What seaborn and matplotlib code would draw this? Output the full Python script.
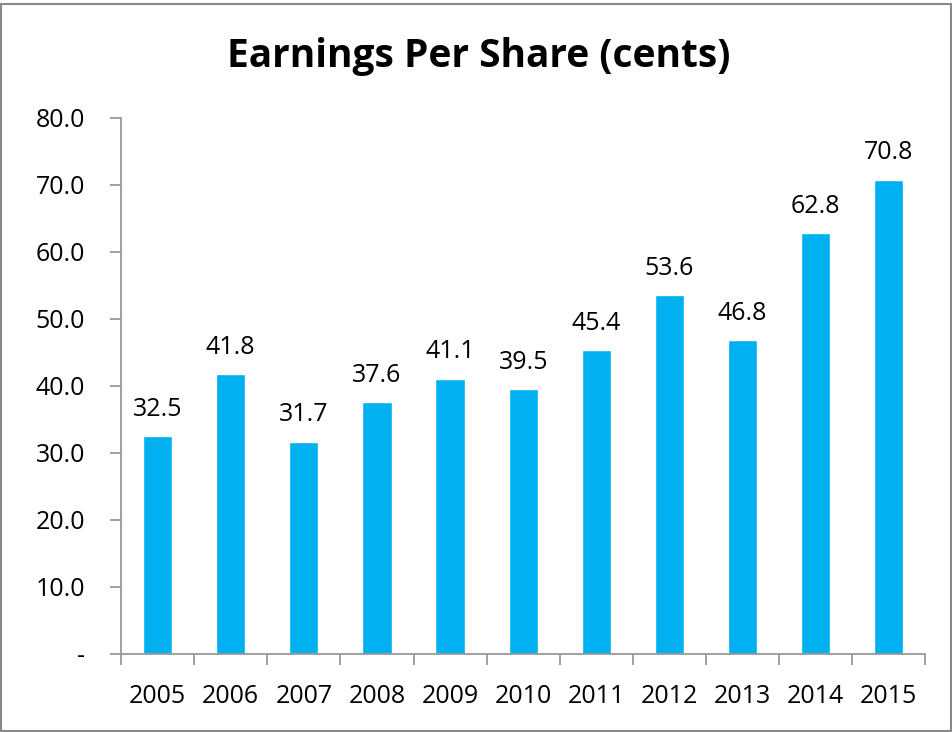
import numpy as np
import pandas as pd
import matplotlib.pyplot as plt
import seaborn as sns
from matplotlib.patches import Rectangle

years = ["2005", "2006", "2007", "2008", "2009", "2010", "2011", "2012", "2013", "2014", "2015"]
eps = [32.5, 41.8, 31.7, 37.6, 41.1, 39.5, 45.4, 53.6, 46.8, 62.8, 70.8]
y_ticks = [0, 10, 20, 30, 40, 50, 60, 70, 80]

data = pd.DataFrame({"year": years, "eps": eps})

sns.set_style("white")
plt.rcParams['font.family'] = ['Open Sans', 'DejaVu Sans']
plt.rcParams['text.color'] = 'black'
plt.rcParams['xtick.color'] = 'black'
plt.rcParams['ytick.color'] = 'black'

fig = plt.figure(figsize=(9.53, 7.32), dpi=100)
ax = fig.add_axes([0.127, 0.1066, 0.844, 0.7324])

sns.barplot(data=data, x="year", y="eps", color="#00B0F0", saturation=1,
            width=0.40, ax=ax)

# value labels above bars
for i, v in enumerate(eps):
    ax.text(i, v + 3.0, f"{v:.1f}", ha="center", va="baseline", fontsize=18)

ax.set_ylim(0, 80)
ax.set_xlim(-0.5, len(years) - 0.5)
ax.set_yticks(y_ticks)
ax.set_yticklabels(["-"] + [f"{t:.1f}" for t in y_ticks[1:]], fontsize=18)
ax.tick_params(axis="x", which="major", bottom=False, pad=18, labelsize=18,
               labelcolor="black")
ax.set_xticks(np.arange(-0.5, len(years)), minor=True)
ax.tick_params(axis="x", which="minor", bottom=True, length=8, color="#999999", width=1.3)
ax.tick_params(axis="y", left=True, length=8, color="#999999", width=1.3, pad=18,
               labelcolor="black")
ax.set_xlabel("")
ax.set_ylabel("")

for s in ["top", "right"]:
    ax.spines[s].set_visible(False)
for s in ["left", "bottom"]:
    ax.spines[s].set_color("#999999")
    ax.spines[s].set_linewidth(1.3)

fig.text(0.502, 0.923, "Earnings Per Share (cents)", ha="center", va="center",
         fontsize=28, fontweight="bold")

fig.add_artist(Rectangle((0.001, 0.001), 0.997, 0.994, transform=fig.transFigure,
                         fill=False, edgecolor="#888888", linewidth=1.5))

fig.savefig("out.png", dpi=100)
